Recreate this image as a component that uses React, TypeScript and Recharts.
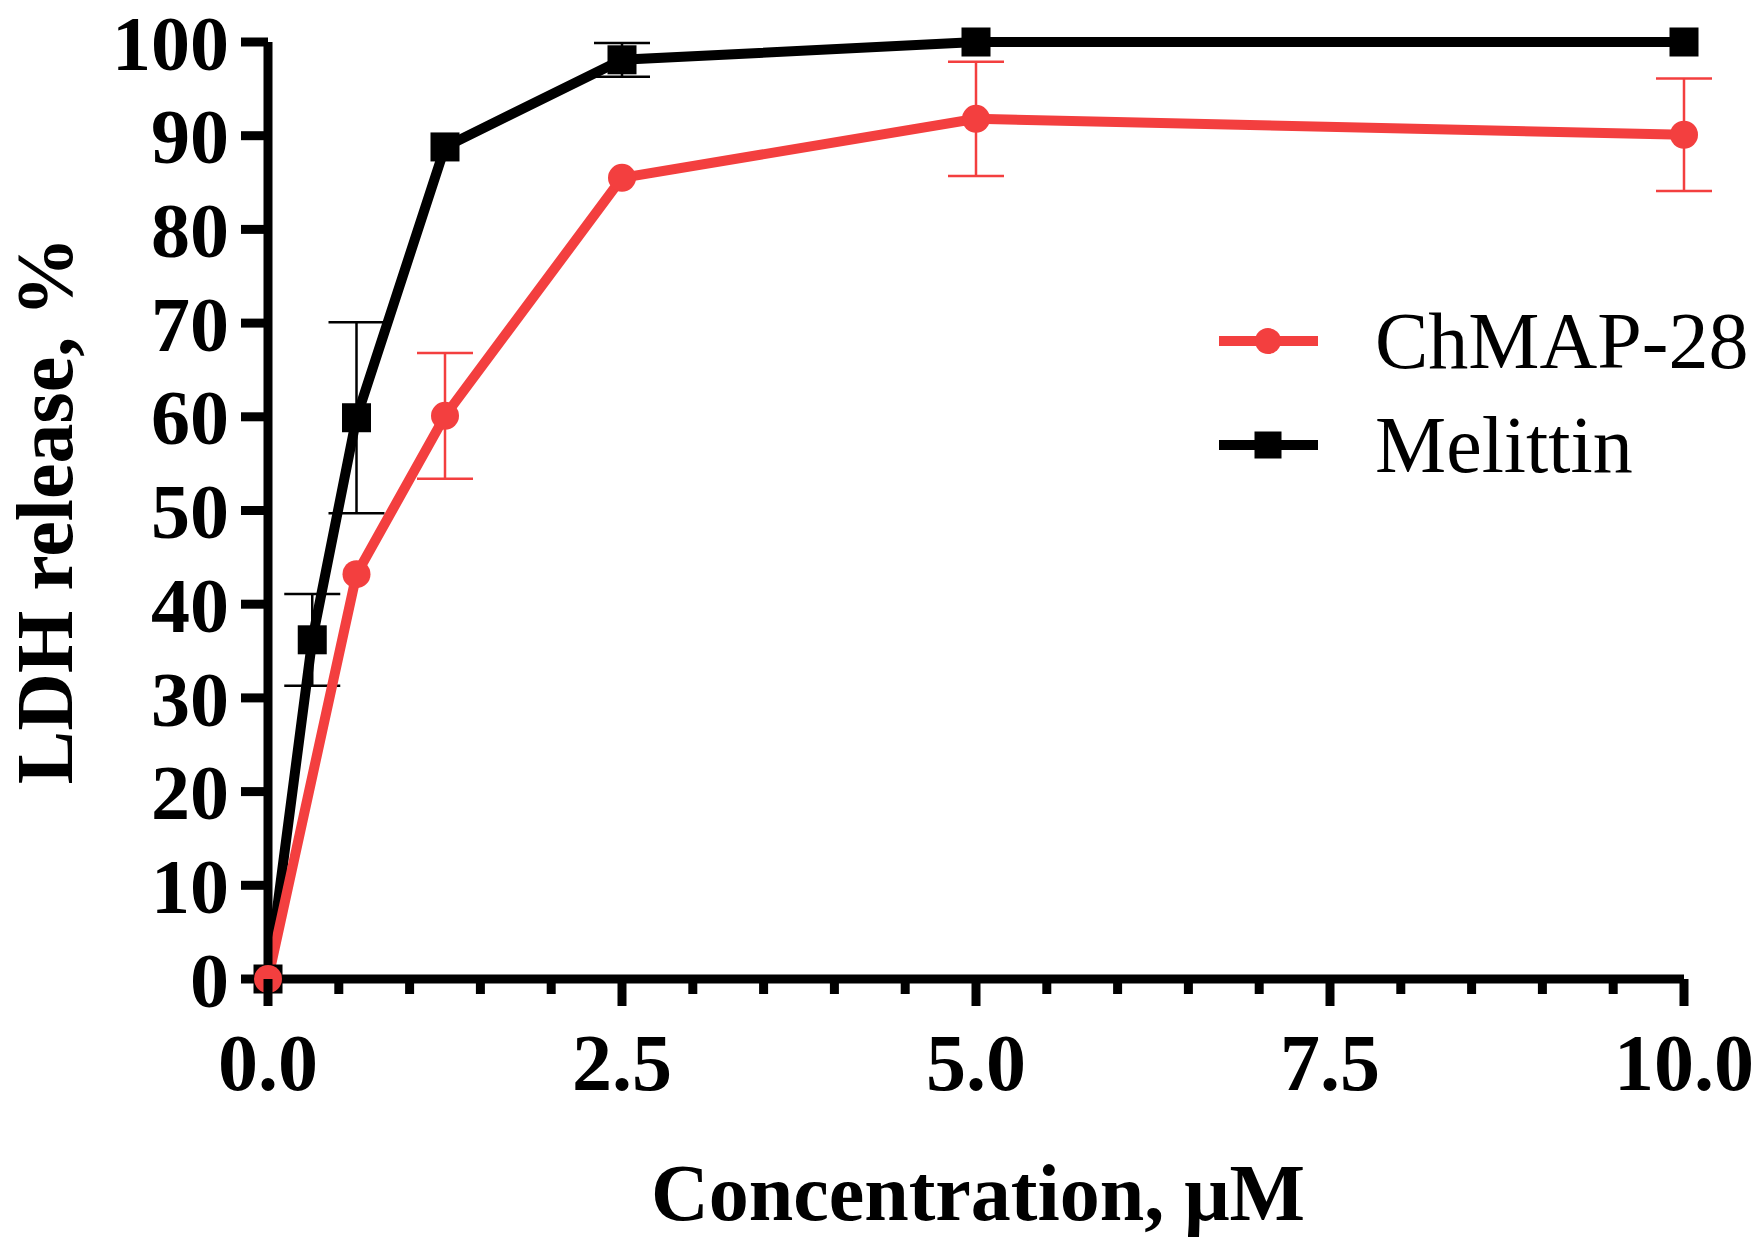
import { LineChart, Line, XAxis, YAxis, ErrorBar, Legend } from 'recharts';

const concentrations = [0, 0.3125, 0.625, 1.25, 2.5, 5, 10];
const chmapMean = [0, null, 43.2, 60.1, 85.5, 91.8, 90.1];
const chmapSd = [null, null, null, 6.7, null, 6.1, 6.0];
const melittinMean = [0, 36.2, 59.9, 88.8, 98.1, 100, 100];
const melittinSd = [null, 4.9, 10.2, null, 1.8, null, null];

const xTicks = [0, 0.5, 1, 1.5, 2, 2.5, 3, 3.5, 4, 4.5, 5, 5.5, 6, 6.5, 7, 7.5, 8, 8.5, 9, 9.5, 10];
const yTicks = [0, 10, 20, 30, 40, 50, 60, 70, 80, 90, 100];

const chmapName = 'ChMAP-28';
const melittinName = 'Melittin';
const xTitle = 'Concentration, μM';
const yTitle = 'LDH release, %';

const RED = '#F33F3F';
const FONT = '"Liberation Serif", "Times New Roman", serif';

const data = concentrations.map((c, i) => ({
  x: c,
  chmap: chmapMean[i],
  chmapErr: chmapSd[i],
  mel: melittinMean[i],
  melErr: melittinSd[i],
}));

const XTick = ({ x, y, payload }: any) => {
  const v = payload.value;
  const major = v % 2.5 === 0;
  return (
    <g>
      <line x1={x} x2={x} y1={y} y2={y + (major ? 27 : 15)} stroke="#000" strokeWidth={9} />
      {major && (
        <text x={x} y={y + 54} dy="0.71em" textAnchor="middle" fontFamily={FONT} fontWeight="bold" fontSize={80} fill="#000">
          {v.toFixed(1)}
        </text>
      )}
    </g>
  );
};

const CircleDot = ({ cx, cy, index }: any) => {
  if (cx == null || cy == null) return <g key={index} />;
  return <circle key={index} cx={cx} cy={cy} r={14} fill={RED} />;
};

const SquareDot = ({ cx, cy, index }: any) => {
  if (cx == null || cy == null) return <g key={index} />;
  return <rect key={index} x={cx - 14.5} y={cy - 14.5} width={29} height={29} fill="#000" />;
};

const renderLegend = () => (
  <svg width={560} height={220}>
    <line x1={26} x2={125} y1={61} y2={61} stroke={RED} strokeWidth={10} />
    <circle cx={75} cy={61} r={13} fill={RED} />
    <text x={182} y={88} fontFamily={FONT} fontSize={80} fill="#000">{chmapName}</text>
    <line x1={26} x2={125} y1={165} y2={165} stroke="#000" strokeWidth={10} />
    <rect x={61.5} y={151.5} width={27} height={27} fill="#000" />
    <text x={182} y={192} fontFamily={FONT} fontSize={80} fill="#000">{melittinName}</text>
  </svg>
);

const XTitle = ({ viewBox }: any) => (
  <text x={viewBox.x + viewBox.width / 2 + 2} y={1220} textAnchor="middle" fontFamily={FONT} fontWeight="bold" fontSize={80} fill="#000">
    {xTitle}
  </text>
);

const YTitle = ({ viewBox }: any) => {
  const cy = viewBox.y + viewBox.height / 2;
  return (
    <text x={72} y={cy} transform={`rotate(-90, 72, ${cy})`} textAnchor="middle" fontFamily={FONT} fontWeight="bold" fontSize={80} fill="#000">
      {yTitle}
    </text>
  );
};

export default function App() {
  return (
    <div style={{ position: 'absolute', left: 0, top: 0, background: '#fff' }}>
      <LineChart width={1760} height={1244} data={data} margin={{ top: 42, right: 76, bottom: 0, left: 0 }}>
        <XAxis
          dataKey="x"
          type="number"
          domain={[0, 10]}
          ticks={xTicks}
          interval={0}
          height={265}
          tickSize={0}
          tickMargin={0}
          tick={<XTick />}
          axisLine={{ stroke: '#000', strokeWidth: 9 }}
          label={{ value: xTitle, content: <XTitle /> }}
        />
        <YAxis
          type="number"
          domain={[0, 100]}
          ticks={yTicks}
          interval={0}
          width={268}
          tickSize={27}
          tickMargin={12}
          tick={{ fill: '#000', fontSize: 78, fontWeight: 'bold', fontFamily: FONT }}
          tickLine={{ stroke: '#000', strokeWidth: 9 }}
          axisLine={{ stroke: '#000', strokeWidth: 9 }}
          label={{ value: yTitle, content: <YTitle /> }}
        />
        <Legend
          layout="horizontal"
          verticalAlign="middle"
          align="center"
          content={renderLegend}
          wrapperStyle={{ position: 'absolute', left: 1193, top: 280, width: 560, height: 220 }}
        />
        <Line
          dataKey="mel"
          name={melittinName}
          type="linear"
          stroke="#000"
          strokeWidth={10}
          dot={<SquareDot />}
          activeDot={false}
          connectNulls
          isAnimationActive={false}
        >
          <ErrorBar dataKey="melErr" width={28} stroke="#000" strokeWidth={2.5} direction="y" />
        </Line>
        <Line
          dataKey="chmap"
          name={chmapName}
          type="linear"
          stroke={RED}
          strokeWidth={10}
          dot={<CircleDot />}
          activeDot={false}
          connectNulls
          isAnimationActive={false}
        >
          <ErrorBar dataKey="chmapErr" width={28} stroke={RED} strokeWidth={2.5} direction="y" />
        </Line>
      </LineChart>
    </div>
  );
}
